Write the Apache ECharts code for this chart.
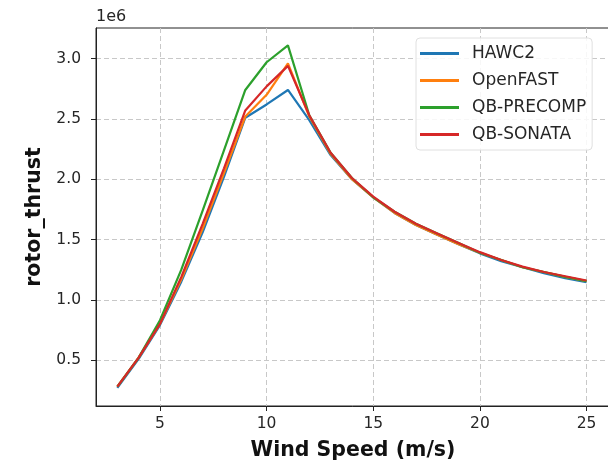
<!DOCTYPE html>
<html lang="en">
<head>
	<meta charset="UTF-8">
	<title>rotor thrust</title>
	<style type="text/css">
	body,html{
		width: 100%;
		height: 100%;
		margin: 0;
		padding: 0;
		background: #fff;
	}
	#container{
		width: 608px;
		height: 464px;
	}
	</style>
</head>
<body>
	<div id="container"></div>
<script type="text/javascript" src="https://cdn.jsdelivr.net/npm/echarts@6/dist/echarts.min.js"></script>
<script type="text/javascript">
	// wind speed (m/s)
	var windSpeed = [3, 4, 5, 6, 7, 8, 9, 10, 11, 12, 13, 14, 15, 16, 17, 18, 19, 20, 21, 22, 23, 24, 25];
	// rotor thrust, in units of 1e6
	var hawc2 = [0.27, 0.51, 0.79, 1.15, 1.56, 2.02, 2.51, 2.62, 2.74, 2.49, 2.20, 2.00, 1.85, 1.72, 1.62, 1.54, 1.46, 1.385, 1.32, 1.27, 1.22, 1.18, 1.145];
	var openFast = [0.28, 0.52, 0.80, 1.17, 1.59, 2.05, 2.52, 2.70, 2.96, 2.52, 2.21, 2.00, 1.85, 1.72, 1.62, 1.54, 1.46, 1.39, 1.33, 1.27, 1.23, 1.19, 1.155];
	var qbPrecomp = [0.28, 0.52, 0.83, 1.25, 1.74, 2.24, 2.74, 2.97, 3.11, 2.53, 2.22, 2.01, 1.85, 1.73, 1.63, 1.55, 1.47, 1.39, 1.33, 1.27, 1.23, 1.19, 1.155];
	var qbSonata = [0.28, 0.52, 0.80, 1.19, 1.63, 2.09, 2.57, 2.77, 2.94, 2.53, 2.22, 2.01, 1.855, 1.73, 1.63, 1.55, 1.47, 1.395, 1.33, 1.275, 1.23, 1.195, 1.16];
	var seriesNames = ['HAWC2', 'OpenFAST', 'QB-PRECOMP', 'QB-SONATA'];
	var seriesColors = ['#1f77b4', '#ff7f0e', '#2ca02c', '#d62728'];
	var xTicks = [5, 10, 15, 20, 25];
	var yTicks = [0.5, 1.0, 1.5, 2.0, 2.5, 3.0];

	function pairs(ys) {
		return windSpeed.map(function (x, i) { return [x, ys[i]]; });
	}

	var font = 'DejaVu Sans';
	var gridLine = { show: true, lineStyle: { color: '#c8c8c8', width: 1, type: [5, 3] } };

	var allData = [hawc2, openFast, qbPrecomp, qbSonata];
	var series = allData.map(function (ys, i) {
		return {
			name: seriesNames[i],
			type: 'line',
			data: pairs(ys),
			showSymbol: false,
			symbol: 'none',
			color: seriesColors[i],
			lineStyle: { width: 2.2, color: seriesColors[i] },
			animation: false
		};
	});

	var option = {
		backgroundColor: '#fff',
		animation: false,
		textStyle: { fontFamily: font },
		grid: {
			left: 96, top: 28, right: -2, bottom: 58,
			outerBoundsMode: 'none',
			show: true, borderColor: '#222', borderWidth: 1
		},
		graphic: [{
			type: 'text', left: 96, top: 9,
			style: { text: '1e6', font: '16px "DejaVu Sans"', fill: '#262626' }
		}],
		legend: {
			orient: 'vertical',
			left: 416, top: 38,
			padding: [7, 6, 7, 4],
			itemGap: 10,
			itemWidth: 39,
			itemHeight: 3,
			icon: 'rect',
			borderColor: '#e0e0e0',
			borderWidth: 1,
			borderRadius: 4,
			backgroundColor: 'rgba(255,255,255,0.85)',
			textStyle: { fontFamily: font, fontSize: 17, color: '#262626', padding: [0, 0, 0, 8], lineHeight: 17 },
			data: seriesNames
		},
		xAxis: {
			type: 'value',
			min: 2, max: 26.1,
			name: 'Wind Speed (m/s)',
			nameLocation: 'middle',
			nameGap: 34,
			nameTextStyle: { fontFamily: font, fontSize: 20.5, fontWeight: 'bold', color: '#111' },
			axisLine: { show: true, onZero: false, lineStyle: { color: '#222', width: 1 } },
			axisTick: { show: true, length: 5, customValues: xTicks, lineStyle: { color: '#222' } },
			axisLabel: { customValues: xTicks, fontSize: 15.5, color: '#262626', margin: 10, fontFamily: font },
			splitLine: gridLine
		},
		yAxis: {
			type: 'value',
			min: 0.119, max: 3.254,
			name: 'rotor_thrust',
			nameLocation: 'middle',
			nameGap: 50,
			nameRotate: 90,
			nameTextStyle: { fontFamily: font, fontSize: 20.5, fontWeight: 'bold', color: '#111' },
			axisLine: { show: true, onZero: false, lineStyle: { color: '#222', width: 1 } },
			axisTick: { show: true, length: 5, customValues: yTicks, lineStyle: { color: '#222' } },
			axisLabel: {
				customValues: yTicks, fontSize: 15.5, color: '#262626', margin: 15, fontFamily: font,
				formatter: function (v) { return v.toFixed(1); }
			},
			splitLine: gridLine
		},
		series: series
	};
	var container = echarts.init(document.getElementById('container'));
	container.setOption(option, true);
</script>
</body>
</html>
